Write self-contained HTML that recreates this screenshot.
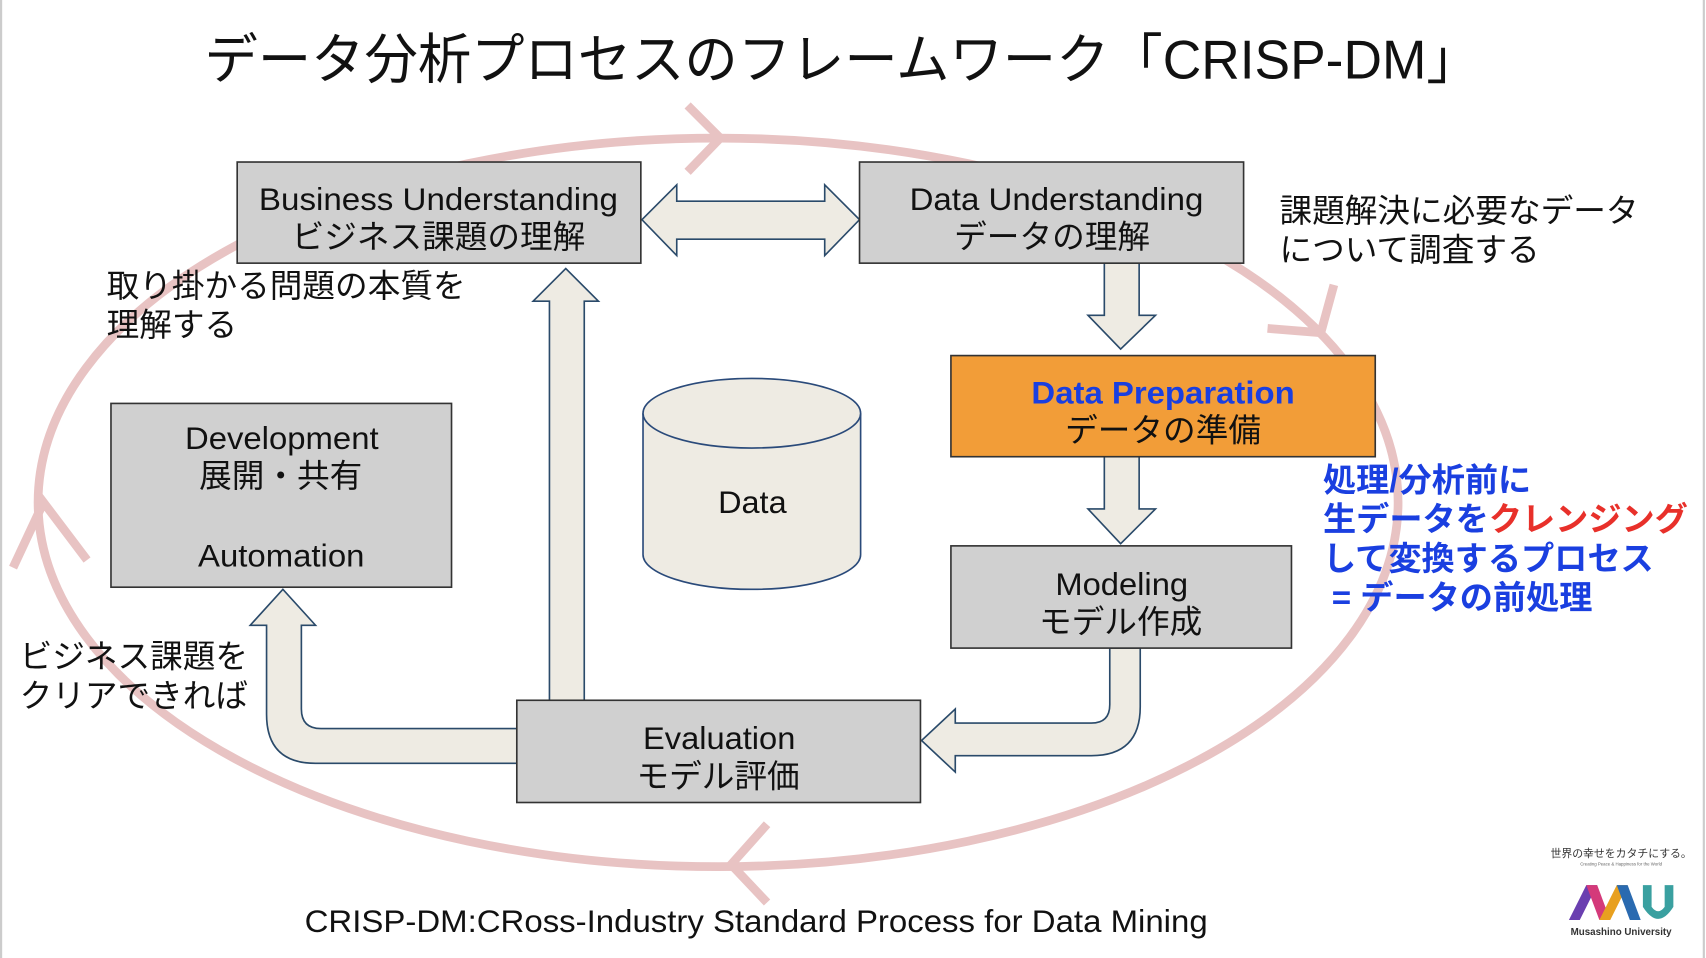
<!DOCTYPE html>
<html><head><meta charset="utf-8"><style>
html,body{margin:0;padding:0;background:#fff;}
svg{display:block;}
text{font-family:"Liberation Sans","Noto Sans CJK JP",sans-serif;}
</style></head><body>
<svg width="1706" height="958" viewBox="0 0 1568 881" preserveAspectRatio="none" xmlns="http://www.w3.org/2000/svg">
<rect x="0" y="0" width="1568" height="881" fill="#fff"/>
<line x1="1" y1="0" x2="1" y2="881" stroke="#ccc" stroke-width="2"/>
<line x1="1566" y1="0" x2="1566" y2="881" stroke="#ccc" stroke-width="2"/>
<text x="188" y="72" font-size="50" textLength="1172" lengthAdjust="spacingAndGlyphs" fill="#111">データ分析プロセスのフレームワーク「CRISP-DM」</text>

<!-- cycle -->
<g stroke="#e8c3c3" stroke-width="8" fill="none">
<ellipse cx="660" cy="462" rx="625" ry="335"/>
<polyline points="632,97 662,127 632,158"/>
<polyline points="1165,302 1214,306 1226,262"/>
<polyline points="705,758 672,795 705,830"/>
<polyline points="12,522 40,462 80,515"/>
</g>

<!-- arrows -->
<g fill="#eeebe3" stroke="#2a4a6a" stroke-width="1.5">
<polygon points="590,202 622,170 622,185 758,185 758,170 790,202 758,235 758,220 622,220 622,235"/>
<polygon points="1015,242 1047,242 1047,290 1062,290 1030,321 1000,290 1015,290"/>
<polygon points="1015,420 1047,420 1047,468 1062,468 1030,500 1000,468 1015,468"/>
<polygon points="505,644 505,277 490,277 520,247 550,277 537,277 537,644"/>
<path d="M1020,596 L1048,596 L1048,650 Q1048,695 1003,695 L878,695 L878,710 L847,681 L878,652 L878,665 L1003,665 Q1020,665 1020,648 Z"/>
<path d="M475,670 L295,670 Q277,670 277,652 L277,575 L290,575 L260,542 L230,575 L245,575 L245,657 Q245,702 290,702 L475,702 Z"/>
</g>

<!-- boxes -->
<g stroke="#333" stroke-width="1.5">
<rect x="218" y="149" width="371" height="93" fill="#d0d0d0"/>
<rect x="790" y="149" width="353" height="93" fill="#d0d0d0"/>
<rect x="874" y="327" width="390" height="93" fill="#f29d38"/>
<rect x="874" y="502" width="313" height="94" fill="#d0d0d0"/>
<rect x="475" y="644" width="371" height="94" fill="#d0d0d0"/>
<rect x="102" y="371" width="313" height="169" fill="#d0d0d0"/>
</g>
<g font-size="29" fill="#111">
<text x="238" y="193" textLength="330" lengthAdjust="spacingAndGlyphs">Business Understanding</text>
<text x="268" y="228" font-size="30">ビジネス課題の理解</text>
<text x="836" y="193" textLength="270" lengthAdjust="spacingAndGlyphs">Data Understanding</text>
<text x="877" y="228" font-size="30">データの理解</text>
<text x="948" y="371" font-weight="bold" fill="#1a3fe0" textLength="242" lengthAdjust="spacingAndGlyphs">Data Preparation</text>
<text x="979" y="406" font-size="30">データの準備</text>
<text x="970" y="547" textLength="122" lengthAdjust="spacingAndGlyphs">Modeling</text>
<text x="955" y="582" font-size="30">モデル作成</text>
<text x="591" y="689" textLength="140" lengthAdjust="spacingAndGlyphs">Evaluation</text>
<text x="585" y="724" font-size="30">モデル評価</text>
<text x="170" y="413" textLength="178" lengthAdjust="spacingAndGlyphs">Development</text>
<text x="183" y="448" font-size="30">展開・共有</text>
<text x="182" y="521" textLength="153" lengthAdjust="spacingAndGlyphs">Automation</text>
</g>

<!-- cylinder -->
<g fill="#eeebe3" stroke="#2a4a7a" stroke-width="1.5">
<path d="M591,380 L591,510 A100,32 0 0 0 791,510 L791,380"/>
<ellipse cx="691" cy="380" rx="100" ry="32"/>
</g>
<text x="660" y="472" font-size="29" textLength="63" lengthAdjust="spacingAndGlyphs" fill="#111">Data</text>

<!-- annotations -->
<g font-size="30" fill="#111">
<text x="98" y="273">取り掛かる問題の本質を</text>
<text x="98" y="309">理解する</text>
<text x="1176" y="204">課題解決に必要なデータ</text>
<text x="1176" y="240">について調査する</text>
<text x="18" y="614">ビジネス課題を</text>
<text x="18" y="650">クリアできれば</text>
</g>
<g font-size="30.5" font-weight="bold" fill="#1a3fe0">
<text x="1216" y="452">処理/分析前に</text>
<text x="1216" y="488">生データを<tspan fill="#e8302a">クレンジング</tspan></text>
<text x="1216" y="524">して変換するプロセス</text>
<text x="1224" y="560">= データの前処理</text>
</g>
<text x="280" y="857" font-size="29" textLength="830" lengthAdjust="spacingAndGlyphs" fill="#111">CRISP-DM:CRoss-Industry Standard Process for Data Mining</text>

<!-- logo -->
<text x="1490" y="788" font-size="10" text-anchor="middle" fill="#333">世界の幸せをカタチにする。</text>
<text x="1490" y="796" font-size="4" text-anchor="middle" fill="#666">Creating Peace &amp; Happiness for the World</text>
<polygon points="1442,846 1458,814 1468,814 1452,846" fill="#6a3fb0"/>
<polygon points="1458,814 1468,814 1480,846 1470,846" fill="#d43a7a"/>
<polygon points="1470,846 1486,814 1496,814 1480,846" fill="#e8a020"/>
<polygon points="1486,814 1496,814 1508,846 1498,846" fill="#2a6ab0"/>
<path d="M1510,814 L1518,814 L1518,834 Q1524,842 1530,834 L1530,814 L1538,814 L1538,834 Q1524,856 1510,834 Z" fill="#3aa0a0"/>
<text x="1490" y="860" font-size="9" font-weight="bold" text-anchor="middle" fill="#333">Musashino University</text>
</svg>
</body></html>
